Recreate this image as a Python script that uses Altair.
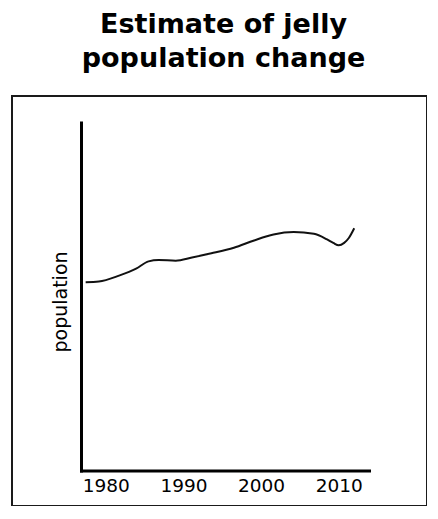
import altair as alt
import pandas as pd

# Values
years = [1977.4, 1979.1, 1981.7, 1983.9, 1985.5, 1986.8, 1989.0, 1991.1, 1993.6,
         1996.5, 1999.1, 2001.6, 2004.2, 2006.8, 2008.5, 2009.3, 2010.0, 2010.7,
         2011.3, 2012.0]
population = [54.1, 54.3, 56.0, 58.0, 60.1, 60.5, 60.3, 61.2, 62.4,
              64.0, 66.1, 67.8, 68.5, 68.0, 66.4, 65.4, 64.7, 65.4,
              66.8, 69.6]
tick_years = [1980, 1990, 2000, 2010]
title_lines = ["Estimate of jelly", "population change"]
y_label = "population"

df = pd.DataFrame({"year": years, "population": population})

FONT = "DejaVu Sans"

chart = alt.Chart(df).mark_line(
    color="#111111", strokeWidth=2, interpolate="monotone"
).encode(
    x=alt.X(
        "year:Q",
        scale=alt.Scale(domain=[1976.8, 2013.9], range=[69, 357], nice=False, zero=False),
        axis=alt.Axis(
            values=tick_years, format="d", title=None, offset=-35.5,
            domainWidth=3, domainColor="black", domainCap="square",
            ticks=False, tickSize=0, grid=False,
            labelFont=FONT, labelFontSize=18.5, labelPadding=6,
            labelColor="black", labelFlush=False,
        ),
    ),
    y=alt.Y(
        "population:Q",
        scale=alt.Scale(domain=[0, 100], range=[374.5, 26.5], nice=False, zero=False),
        axis=alt.Axis(
            title=y_label, labels=False, ticks=False, tickSize=0, grid=False,
            offset=-69, domainWidth=3, domainColor="black", domainCap="square",
            titleFont=FONT, titleFontSize=19, titleFontWeight="normal",
            titlePadding=11, titleColor="black", titleY=205.5,
        ),
    ),
).properties(
    width=415,
    height=410,
    title=alt.Title(
        text=title_lines, font=FONT, fontSize=27, fontWeight="bold",
        lineHeight=34, anchor="middle", color="black", offset=23.5, dx=4,
    ),
    padding={"left": 4, "top": 2, "right": 0, "bottom": 0},
).configure_view(
    stroke="#1a1a1a", strokeWidth=2
)

chart.save("out.html", embed_options={"renderer": "svg", "actions": False})
